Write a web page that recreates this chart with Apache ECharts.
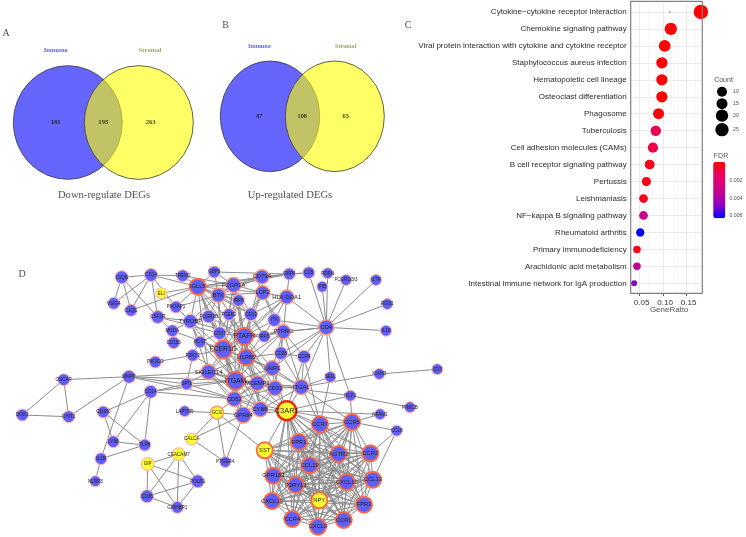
<!DOCTYPE html>
<html><head><meta charset="utf-8">
<style>html,body{margin:0;padding:0;background:#fff}#c{width:746px;height:537px}</style>
<script src="https://cdn.jsdelivr.net/npm/echarts@6/dist/echarts.min.js"></script>
</head><body><div id="c"></div>
<script>
// ---- Venn data
const vennCircles = [ // cx, cy, w, h, kind
  [67.8,122.5,109,113.7,'i'],[138.8,122.5,109,113.7,'s'],
  [270,116.3,99.4,110.6,'i'],[334.8,116.3,99,110.6,'s']];
const vennCountsA = [181,195,263];
const vennCountsB = [87,108,65];
const vennCountXA = [55.7,103.3,150.7];
const vennCountXB = [259.3,302.3,345.7];
// ---- Dot plot data
const pathways = ['Cytokine\u2212cytokine receptor interaction','Chemokine signaling pathway','Viral protein interaction with cytokine and cytokine receptor','Staphylococcus aureus infection','Hematopoietic cell lineage','Osteoclast differentiation','Phagosome','Tuberculosis','Cell adhesion molecules (CAMs)','B cell receptor signaling pathway','Pertussis','Leishmaniasis','NF\u2212kappa B signaling pathway','Rheumatoid arthritis','Primary immunodeficiency','Arachidonic acid metabolism','Intestinal immune network for IgA production'];
const geneRatio = [.181,.117,.104,.098,.098,.098,.091,.085,.079,.072,.065,.059,.059,.052,.045,.045,.039];
const fdr = [0,0,0,0,0,0,.0002,.0012,.001,.0004,.0003,.0004,.0032,.0063,.0003,.0035,.0048];
const counts = [26,20,18,16,16,16,15,13,12,11,9,8,8,7,6,6,4];
const countLegend = [10,15,20,25];
const xTicks = [.05,.10,.15];
const xMinor = [.075,.125,.175];
// ---- Network data: name, x, y, diameter, emphasis tier, yellow flag
const nodes = [
['C1QB',121.7,277.3,12,0],['C1QA',151,275,12,0],['TREM2',182.7,275.7,11,0],['IGLL5',197.7,286.7,15,2],['GBP5',214.3,272,11,0],
['FCGR1A',233.5,285,14,1],['BTK',218.3,295.3,13,1],['IRF8',238.5,300.5,11,0],['ELI',161.3,293.3,10,0,1],['VSIG4',113.7,303.3,11,0],
['C1QC',131,310.3,11,0],['PIK3AP1',176,307,11,0],['CSF1R',157.7,317,12,0],['TYROBP',190.3,321.3,13,0],['FCGR2B',208.7,316.5,12,0],
['FCER2',229,314.3,11,0],['CD37',219.7,333.3,12,0],['MNDA',172.3,330.7,11,0],['CD163',173.7,342.7,11,0],['HCST',200,342,11,0],
['FCER1G',223.3,349.5,17,2],['P2RY1',192.7,355.3,11,0],['PIK3CG',155.3,362,11,0],['SIGLEC14',208.5,372,14,1],['ITGAM',235.5,380.7,17,2],
['OSCAR',63.7,379.7,11,0],['MMP9',129,376.7,12,0],['SPI1',186.7,384,11,0],['CD14',150.7,391.7,12,0],['CD53',234.3,399,14,1],
['CD79A',262,276.7,13,1],['GBP4',289.3,274,11,0],['CD5',308.7,272.7,11,0],['PDRN',327.7,273.3,10,0],['LCP2',262.7,292.7,13,1],
['HLA-DOA1',286.7,297,13,1],['PIB',322.3,286.7,10,0],['FCGR2/3/3',346,280,10,0],['IL7R',376,280,10,0],['RGS1',387.3,304,10,0],
['IL18',386,330.7,10,0],['CD4',326.3,327.3,14,1],['ITK',274.3,320,12,0],['CD19',251,314.3,12,0],['PTAFR',244.3,336.3,16,2],
['IRF5',264.3,336.3,11,0],['PTPRC',283.3,331.7,13,1],['CD28',281,353.3,12,0],['CCR9',304,356.7,12,0],['LILRB2',246.3,357.3,15,2],
['LAIR1',272.3,368.3,14,1],['SELL',330.3,377,10,0],['ICAM3',379.3,374,10,0],['CD3',437.3,369.3,10,0],['MCEMP1',257.3,383.3,14,1],
['CD33',275,388.3,14,1],['ITGAL',301.3,387,14,1],['NCF1',350.3,395.7,10,0],
['DOK1',22.3,415,11,0],['CHIT1',68.7,416.7,11,0],['CD180',103.3,412,11,0],['LY86',113.3,441.7,11,0],['TLR8',144.7,445,11,0],
['IL1B',101,458.7,11,0],['NLRP3',95.3,481.3,10,0],['GIP',147.7,464,12,0,1],['CEACAM7',178.7,454.3,12,0,1],['POLR1',197.7,481.3,12,0],
['CD36',147,496.3,12,0],['GPIHBP1',177.3,507.3,11,0],['LAPTM5',184.7,411.3,10,0],['GCG',217,412.7,12,1,1],['CALCA',191.7,439,11,0,1],
['PTGER4',225.3,462,10,0],['CYBB',260.3,409.3,14,1],['C3AR1',286.7,410.7,18,3,1],['GPR84',243.3,415,15,1],['PRKCB',410,407.3,10,0],
['NFAM1',380,414.3,10,0],['CCR7',320,424.3,15,2],['CCR5',352,422,15,2],['CCL8',396.7,430.7,10,0],['FPR1',299,442,15,2],['SST',264.7,450.3,15,2,1],
['AGTR2',338.7,454,15,2],['CCR2',370.3,453.3,15,2],['CCL19',309.7,465.3,15,2],['GPR183',273.3,475.7,15,2],['P2RY13',295.7,485,15,2],
['CXCL10',346.7,482,15,2],['CCL13',373,479.7,15,2],['CXCL13',272,501,15,2],['NPY',319.3,500.3,15,2,1],['FPR3',364,504.7,15,2],
['CCR4',292.3,519,15,2],['CXCL9',318,526.7,15,2],['CCR1',343.7,520,15,2]];
const chemokineGroup = ['C3AR1','CCR7','CCR5','FPR1','SST','AGTR2','CCR2','CCL19','GPR183','P2RY13','CXCL10','CCL13','CXCL13','NPY','FPR3','CCR4','CXCL9','CCR1'];
const edgeText = 'C1QB:C1QA,VSIG4,C1QC,CSF1R;C1QA:VSIG4,C1QC,CSF1R,TREM2,IGLL5,PIK3AP1;C1QC:IGLL5;ELI:IGLL5;TREM2:IGLL5,FCGR1A;GBP5:FCGR1A,IGLL5,BTK,GBP4;'
 +'PIK3AP1:IGLL5,TYROBP,BTK;CSF1R:TYROBP,MNDA,CD37;TYROBP:MNDA,HCST;MNDA:CD163,FCER1G;P2RY1:PIK3CG,FCER1G,SPI1,ITGAM,HCST;'
 +'MMP9:OSCAR,CHIT1,ITGAM,SPI1,SIGLEC14,CD53,IL1B;OSCAR:CHIT1,DOK1;DOK1:CHIT1;CD14:CD180,LY86,TLR8,ITGAM,SPI1,CD53;CD180:LY86,TLR8;LY86:TLR8;IL1B:TLR8,NLRP3;'
 +'GIP:CEACAM7,POLR1,CD36,GPIHBP1;CEACAM7:POLR1,CD36,GPIHBP1;POLR1:CD36,GPIHBP1;CD36:GPIHBP1;LAPTM5:GCG;CALCA:GCG,GPR84,PTGER4;GCG:PTGER4,GPR84,CD53,SST;GPR84:PTGER4;'
 +'CD4:PIB,FCGR2/3/3,IL7R,RGS1,IL18,HLA-DOA1,ITK,PTPRC,CD28,CCR9,SELL,CD5,NCF1,PTAFR,LAIR1,ITGAL,PDRN;SELL:ITGAL,CCR7;ICAM3:ITGAL,CD3;NCF1:C3AR1,PRKCB,CCR5,ITGAM;NFAM1:C3AR1,CCR5;'
 +'CCL8:CCR5,CCR2,CCL13;CD79A:FCGR1A,GBP4,LCP2,BTK,IGLL5,CD5,PTAFR;GBP4:FCGR1A,HLA-DOA1,CD5,IGLL5;LCP2:FCGR1A,BTK,IGLL5,HLA-DOA1,CD19,PTPRC,ITK,PTAFR,FCER1G;HLA-DOA1:ITK,PTPRC,CD19,PTAFR,FCER1G;'
 +'CD19:BTK,IGLL5,PTAFR,CD37,LILRB2;ITK:PTPRC,PTAFR,LILRB2;PTPRC:IRF5,PTAFR,LILRB2,CD28,CCR9,LAIR1,ITGAL,ITGAM,CD33;IRF5:PTAFR,FCGR1A,IRF8;CD28:LILRB2,CCR9,ITGAL;CCR9:ITGAL,C3AR1,CCR7;ITGAL:CCR5,CCR7;HCST:FCER1G,TYROBP,ITGAM,CD37;SPI1:ITGAM,CD53,SIGLEC14;'
 +'IGLL5:FCGR1A,BTK,IRF8,FCGR2B,CD37,PTAFR,FCER1G,LILRB2,TYROBP,SIGLEC14;FCGR1A:BTK,IRF8,FCER2,PTAFR,FCER1G,LILRB2,ITGAM;BTK:IRF8,FCGR2B,CD37,PTAFR,FCER1G,TYROBP;IRF8:FCER2,PTAFR,FCER1G;FCGR2B:CD37,PTAFR,FCER1G,TYROBP,ITGAM;FCER2:CD37,PTAFR,FCER1G,LILRB2;CD37:PTAFR,FCER1G,LILRB2,ITGAM;'
 +'PTAFR:FCER1G,LILRB2,ITGAM,MCEMP1,CD33,LAIR1,SIGLEC14,CD53,CYBB,TYROBP;FCER1G:LILRB2,ITGAM,MCEMP1,CD33,SIGLEC14,CD53,CYBB,GPR84,TYROBP,LAIR1;LILRB2:ITGAM,MCEMP1,CD33,LAIR1,SIGLEC14,CD53,CYBB,ITGAL;'
 +'SIGLEC14:ITGAM,MCEMP1,CD33,CD53,CYBB,GPR84,TYROBP;ITGAM:MCEMP1,CD33,LAIR1,CD53,CYBB,GPR84,ITGAL,C3AR1,TYROBP;MCEMP1:CD33,LAIR1,CD53,CYBB,GPR84,ITGAL,C3AR1;CD33:LAIR1,CD53,CYBB,ITGAL,C3AR1,GPR84;LAIR1:ITGAL,C3AR1,CD53;CD53:CYBB,GPR84,C3AR1;CYBB:GPR84,C3AR1,ITGAL;GPR84:C3AR1;ITGAL:C3AR1';
// ---- Chart construction
function dotSize(c){const t=[[4,6],[7,8.3],[10,9.6],[15,11],[20,12.3],[25,13.5],[26,14.5]];
  for(let i=1;i<t.length;i++){if(c<=t[i][0]){const a=t[i-1],b=t[i];return a[1]+(c-a[0])/(b[0]-a[0])*(b[1]-a[1]);}}return 14.5;}
const seen=new Set(), links=[];
function addLink(a,b){const k=[a,b].sort().join('|');if(a!==b&&!seen.has(k)){seen.add(k);links.push({source:a,target:b});}}
edgeText.split(';').forEach(p=>{const [a,r]=p.split(':');r.split(',').forEach(b=>addLink(a,b));});
chemokineGroup.forEach((a,i)=>chemokineGroup.slice(i+1).forEach(b=>addLink(a,b)));
const borders=[['#ffb3b0',1.1],['#ff9478',1.4],['#ff6a45',1.9],['#ee2a10',2.4]];
const graphNodes=nodes.map(n=>{const yellow=!!n[5],b=borders[n[4]];
  return {name:n[0],value:[n[1],n[2]],symbolSize:n[3]+1,
    itemStyle:{color:yellow?'#ffff33':'#5f5ffa',borderColor:b[0],borderWidth:b[1],opacity:1},
    label:{show:true,position:'inside',color:'#222',textBorderWidth:0,textBorderColor:'transparent',fontFamily:'Liberation Sans',fontSize:n[3]>=18?7.4:n[3]>=16?6.8:n[3]>=13?5.8:4.6}};});
const vennData=vennCircles.map(c=>({value:[c[0],c[1]],symbolSize:[c[2],c[3]],
  itemStyle:{color:c[4]==='i'?'rgba(0,0,255,0.6)':'rgba(255,255,0,0.6)',borderColor:'#3a3a3a',borderWidth:.8,opacity:1}}));
const annotations=[];
function note(x,y,t,size,color,weight,family){annotations.push({value:[x,y],label:{show:true,position:'inside',formatter:t,fontSize:size,color:color,textBorderWidth:0,textBorderColor:'transparent',fontWeight:weight||'normal',fontFamily:family||'Liberation Serif',width:300,align:'center'}});}
note(6,33,'A',10,'#222');note(225.7,25.3,'B',10,'#222');note(408,25,'C',10,'#222');note(22,274,'D',10,'#222');
note(55.7,50.3,'Immune',6.6,'#3333ff','bold');note(150,50.3,'Stromal',6.6,'#8b8b3a','bold');
note(259.3,46.3,'Immune',6.3,'#3333ff','bold');note(345.7,46.3,'Stromal',6.3,'#8b8b3a','bold');
vennCountsA.forEach((v,i)=>note(vennCountXA[i],122.3,String(v),6.6,'#111','bold'));
vennCountsB.forEach((v,i)=>note(vennCountXB[i],116,String(v),6.3,'#111','bold'));
note(104,195,'Down-regulate DEGs',10.6,'#222');note(290,195,'Up-regulated DEGs',10.6,'#222');
note(669,310,'GeneRatio',8,'#222','normal','Liberation Sans');
note(723.5,80,'Count',7,'#222','normal','Liberation Sans');note(721,156,'FDR',7,'#222','normal','Liberation Sans');
const fl=['0.002','0.004','0.006'],fy=[180.7,198.7,216];fl.forEach((t,i)=>note(736,fy[i],t,5.2,'#222','normal','Liberation Sans'));
const cy=[91.7,103.7,115.7,129.7],cd=[10,11,12.3,13.3];
countLegend.forEach((c,i)=>note(736,cy[i],String(c),5.2,'#222','normal','Liberation Sans'));
const opt={animation:false,backgroundColor:'#fff',
 grid:[{left:0,top:0,right:0,bottom:0,containLabel:false},{left:630.7,width:71.6,top:3.5,height:288.3}],
 xAxis:[{gridIndex:0,type:'value',min:0,max:746,show:false},
  {gridIndex:1,type:'value',min:.0317,max:.184,offset:1.5,axisLine:{show:false},splitLine:{show:false},
   axisTick:{show:true,length:2.5,lineStyle:{color:'#444'},customValues:xTicks},
   axisLabel:{customValues:xTicks,margin:5,fontSize:8,color:'#333',fontFamily:'Liberation Sans',padding:[0,0,0,4.6],formatter:v=>v.toFixed(2)}}],
 yAxis:[{gridIndex:0,type:'value',min:0,max:537,inverse:true,show:false},
  {gridIndex:1,type:'category',inverse:true,data:pathways,axisLine:{show:false},
   axisTick:{length:2.5,alignWithLabel:true,lineStyle:{color:'#444'}},
   splitLine:{show:true,alignWithLabel:true,lineStyle:{color:'#ebebeb',width:1}},
   axisLabel:{margin:4,interval:0,fontSize:8,color:'#2b2b2b',fontFamily:'Liberation Sans'}}],
 visualMap:[{type:'continuous',seriesIndex:4,dimension:2,min:0,max:.0063,inverse:true,left:713.3,top:162,padding:0,itemWidth:12,itemHeight:56.3,text:null,calculable:false,hoverLink:false,
   inRange:{color:['#ff0000','#e8006b','#c90089','#9400bf','#0000ff']},outOfRange:{color:['#ff0000']}}],
 graphic:[{type:'rect',z:50,silent:true,shape:{x:630.7,y:1.3,width:71.6,height:292},style:{fill:'none',stroke:'#808080',lineWidth:1.2}}],
 series:[
  {name:'venn',type:'scatter',xAxisIndex:0,yAxisIndex:0,symbol:'circle',data:vennData,z:2,silent:true},
  {name:'network',type:'graph',coordinateSystem:'cartesian2d',xAxisIndex:0,yAxisIndex:0,layout:'none',roam:false,data:graphNodes,links:links,
   lineStyle:{color:'#8c8c8c',width:1,opacity:1,curveness:0},z:3,silent:true},
  {name:'countLegend',type:'scatter',xAxisIndex:0,yAxisIndex:0,symbol:'circle',itemStyle:{color:'#000',opacity:1},z:3,silent:true,
   data:countLegend.map((c,i)=>({value:[722,cy[i]],symbolSize:cd[i]}))},
  {name:'grid',type:'scatter',xAxisIndex:1,yAxisIndex:1,data:[],z:1,silent:true,
   markLine:{silent:true,symbol:'none',label:{show:false},animation:false,z:1,
    data:xTicks.map(v=>({xAxis:v,lineStyle:{color:'#ebebeb',width:1,type:'solid'}})).concat(xMinor.map(v=>({xAxis:v,lineStyle:{color:'#f2f2f2',width:.7,type:'solid'}})))}},
  {name:'GeneRatio',type:'scatter',xAxisIndex:1,yAxisIndex:1,symbol:'circle',clip:true,z:5,silent:true,itemStyle:{opacity:1},
   symbolSize:v=>dotSize(v[3]),data:pathways.map((p,i)=>[geneRatio[i],p,fdr[i],counts[i]]),encode:{x:0,y:1}},
  {name:'specks',type:'scatter',xAxisIndex:1,yAxisIndex:1,symbolSize:1.6,itemStyle:{color:'#666',opacity:1},z:6,silent:true,
   data:[[.115,pathways[0]],[.115,pathways[1]]]},
  {name:'notes',type:'scatter',xAxisIndex:0,yAxisIndex:0,symbolSize:0,data:annotations,z:10,silent:true}
 ]};
echarts.init(document.getElementById('c')).setOption(opt);
</script></body></html>
